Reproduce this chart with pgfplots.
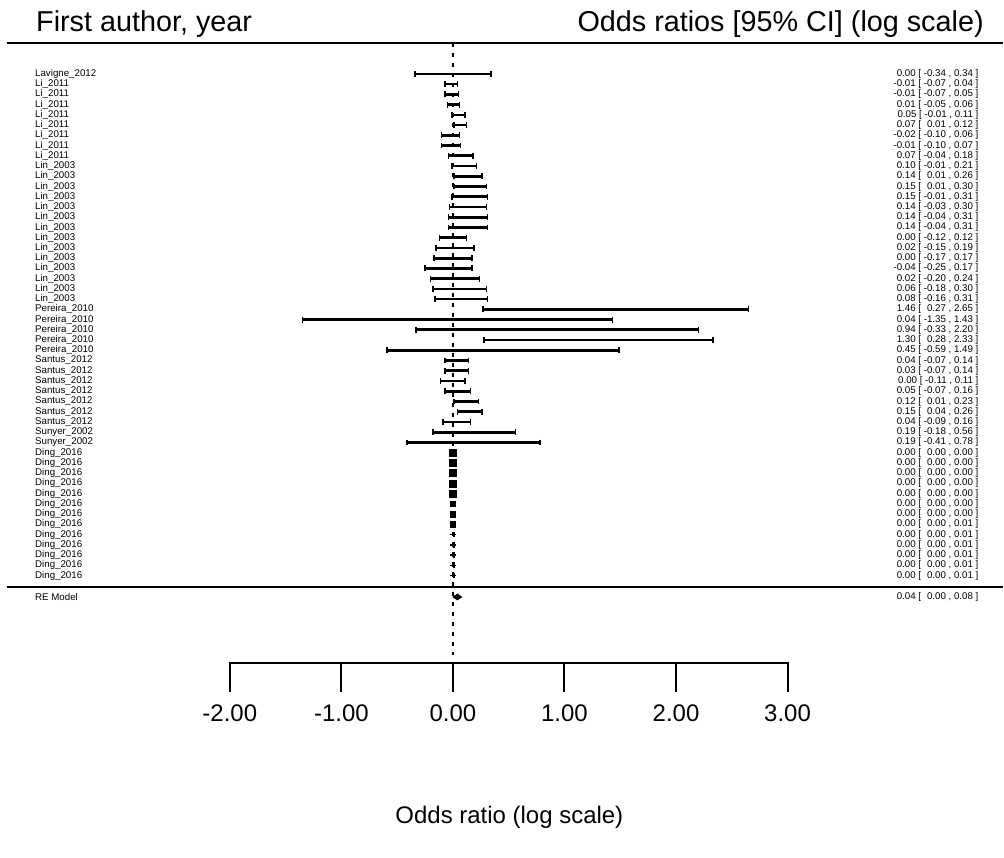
\documentclass[border=0pt]{standalone}
\usepackage{pgfplots}
\pgfplotsset{compat=1.18}
\usepackage{pgfplotstable}
\usepackage{fontspec}
\setmainfont{Liberation Sans}
\protected\def\mph{\phantom{-}}
\protected\def\us{\_}

\pgfplotstableread[col sep=semicolon]{
row;est;lo;hi;sz;study;txt
1;0.00;-0.34;0.34;0.4;Lavigne\us 2012;0.00 [ -0.34 , 0.34 ]
2;-0.01;-0.07;0.04;0.4;Li\us 2011;-0.01 [ -0.07 , 0.04 ]
3;-0.01;-0.07;0.05;0.4;Li\us 2011;-0.01 [ -0.07 , 0.05 ]
4;0.01;-0.05;0.06;0.4;Li\us 2011;0.01 [ -0.05 , 0.06 ]
5;0.05;-0.01;0.11;0.4;Li\us 2011;0.05 [ -0.01 , 0.11 ]
6;0.07;0.01;0.12;0.4;Li\us 2011;0.07 [ \mph0.01 , 0.12 ]
7;-0.02;-0.10;0.06;0.4;Li\us 2011;-0.02 [ -0.10 , 0.06 ]
8;-0.01;-0.10;0.07;0.4;Li\us 2011;-0.01 [ -0.10 , 0.07 ]
9;0.07;-0.04;0.18;0.4;Li\us 2011;0.07 [ -0.04 , 0.18 ]
10;0.10;-0.01;0.21;0.4;Lin\us 2003;0.10 [ -0.01 , 0.21 ]
11;0.14;0.01;0.26;0.4;Lin\us 2003;0.14 [ \mph0.01 , 0.26 ]
12;0.15;0.01;0.30;0.4;Lin\us 2003;0.15 [ \mph0.01 , 0.30 ]
13;0.15;-0.01;0.31;0.4;Lin\us 2003;0.15 [ -0.01 , 0.31 ]
14;0.14;-0.03;0.30;0.4;Lin\us 2003;0.14 [ -0.03 , 0.30 ]
15;0.14;-0.04;0.31;0.4;Lin\us 2003;0.14 [ -0.04 , 0.31 ]
16;0.14;-0.04;0.31;0.4;Lin\us 2003;0.14 [ -0.04 , 0.31 ]
17;0.00;-0.12;0.12;0.4;Lin\us 2003;0.00 [ -0.12 , 0.12 ]
18;0.02;-0.15;0.19;0.4;Lin\us 2003;0.02 [ -0.15 , 0.19 ]
19;0.00;-0.17;0.17;0.4;Lin\us 2003;0.00 [ -0.17 , 0.17 ]
20;-0.04;-0.25;0.17;0.4;Lin\us 2003;-0.04 [ -0.25 , 0.17 ]
21;0.02;-0.20;0.24;0.4;Lin\us 2003;0.02 [ -0.20 , 0.24 ]
22;0.06;-0.18;0.30;0.4;Lin\us 2003;0.06 [ -0.18 , 0.30 ]
23;0.08;-0.16;0.31;0.4;Lin\us 2003;0.08 [ -0.16 , 0.31 ]
24;1.46;0.27;2.65;0.3;Pereira\us 2010;1.46 [ \mph0.27 , 2.65 ]
25;0.04;-1.35;1.43;0.3;Pereira\us 2010;0.04 [ -1.35 , 1.43 ]
26;0.94;-0.33;2.20;0.3;Pereira\us 2010;0.94 [ -0.33 , 2.20 ]
27;1.30;0.28;2.33;0.3;Pereira\us 2010;1.30 [ \mph0.28 , 2.33 ]
28;0.45;-0.59;1.49;0.3;Pereira\us 2010;0.45 [ -0.59 , 1.49 ]
29;0.04;-0.07;0.14;0.4;Santus\us 2012;0.04 [ -0.07 , 0.14 ]
30;0.03;-0.07;0.14;0.4;Santus\us 2012;0.03 [ -0.07 , 0.14 ]
31;0.00;-0.11;0.11;0.4;Santus\us 2012;0.00 [ -0.11 , 0.11 ]
32;0.05;-0.07;0.16;0.4;Santus\us 2012;0.05 [ -0.07 , 0.16 ]
33;0.12;0.01;0.23;0.4;Santus\us 2012;0.12 [ \mph0.01 , 0.23 ]
34;0.15;0.04;0.26;0.4;Santus\us 2012;0.15 [ \mph0.04 , 0.26 ]
35;0.04;-0.09;0.16;0.4;Santus\us 2012;0.04 [ -0.09 , 0.16 ]
36;0.19;-0.18;0.56;0.4;Sunyer\us 2002;0.19 [ -0.18 , 0.56 ]
37;0.19;-0.41;0.78;0.4;Sunyer\us 2002;0.19 [ -0.41 , 0.78 ]
38;0.00;0.00;0.00;2.6;Ding\us 2016;0.00 [ \mph0.00 , 0.00 ]
39;0.00;0.00;0.00;2.6;Ding\us 2016;0.00 [ \mph0.00 , 0.00 ]
40;0.00;0.00;0.00;2.6;Ding\us 2016;0.00 [ \mph0.00 , 0.00 ]
41;0.00;0.00;0.00;2.6;Ding\us 2016;0.00 [ \mph0.00 , 0.00 ]
42;0.00;0.00;0.00;2.6;Ding\us 2016;0.00 [ \mph0.00 , 0.00 ]
43;0.00;0.00;0.00;2.1;Ding\us 2016;0.00 [ \mph0.00 , 0.00 ]
44;0.00;0.00;0.00;2.1;Ding\us 2016;0.00 [ \mph0.00 , 0.00 ]
45;0.00;0.00;0.01;2.1;Ding\us 2016;0.00 [ \mph0.00 , 0.01 ]
46;0.00;0.00;0.01;0.8;Ding\us 2016;0.00 [ \mph0.00 , 0.01 ]
47;0.00;0.00;0.01;0.8;Ding\us 2016;0.00 [ \mph0.00 , 0.01 ]
48;0.00;0.00;0.01;0.8;Ding\us 2016;0.00 [ \mph0.00 , 0.01 ]
49;0.00;0.00;0.01;0.8;Ding\us 2016;0.00 [ \mph0.00 , 0.01 ]
50;0.00;0.00;0.01;0.8;Ding\us 2016;0.00 [ \mph0.00 , 0.01 ]
}\data

\pgfplotstableread[col sep=semicolon]{
x;lab
-2;-2.00
-1;-1.00
0;0.00
1;1.00
2;2.00
3;3.00
}\ticks

\begin{document}
\begin{tikzpicture}
\begin{axis}[
  width=753pt, height=644.25pt, scale only axis,
  xmin=-4.06, xmax=4.929,
  ymin=-6.22, ymax=77.59, y dir=reverse,
  axis line style={draw=none}, ticks=none,
  clip=false,
]
\path (rel axis cs:0,0) rectangle (rel axis cs:1,1);
% header
\node[anchor=base west, font=\fontsize{21.6}{24}\selectfont, inner sep=0pt] at (axis cs:-3.738,-3.1) {First author, year};
\node[anchor=base east, font=\fontsize{21.6}{24}\selectfont, inner sep=0pt] at (axis cs:4.76,-3.1) {Odds ratios [95\% CI] (log scale)};
% lines
\addplot[black, line width=1.9pt] coordinates {(-3.997,-2.02) (4.929,-2.02)};
\addplot[black, line width=1.9pt] coordinates {(-3.997,51.1) (4.929,51.1)};
\addplot[black, line width=1.8pt, dash pattern=on 3pt off 4.5pt] coordinates {(0,-2.02) (0,57.8)};
% CIs
\addplot[black, draw=none, mark=none,
  error bars/.cd, x dir=both, x explicit, error mark=|,
  error bar style={draw=black, solid, line width=2pt},
  error mark options={draw=black, solid, mark size=2.2pt, line width=1.1pt}]
  table[x=est, y=row, x error plus expr=\thisrow{hi}-\thisrow{est}, x error minus expr=\thisrow{est}-\thisrow{lo}] {\data};
% squares
\addplot[scatter, only marks, mark=square*, point meta=\thisrow{sz},
  scatter/use mapped color={draw=black, fill=black},
  visualization depends on={\thisrow{sz} \as \msz},
  scatter/@pre marker code/.append style={/tikz/mark size=\msz pt}]
  table[x=est, y=row] {\data};
% RE diamond
\addplot[black, fill=black, line width=0.4pt] coordinates {(0,52.1) (0.04,51.8) (0.08,52.1) (0.04,52.4) (0,52.1)} -- cycle;
% labels
\addplot[draw=none, mark=none, nodes near coords, point meta=explicit symbolic,
  every node near coord/.append style={anchor=west, inner sep=0pt, font=\fontsize{7.3}{8}\selectfont}]
  table[x expr=-3.747, y=row, meta=study] {\data};
\addplot[draw=none, mark=none, nodes near coords, point meta=explicit symbolic,
  every node near coord/.append style={anchor=east, inner sep=0pt, font=\fontsize{7.3}{8}\selectfont}]
  table[x expr=4.713, y=row, meta=txt] {\data};
\node[anchor=west, inner sep=0pt, font=\fontsize{7.3}{8}\selectfont] at (axis cs:-3.747,52.1) {RE Model};
\node[anchor=east, inner sep=0pt, font=\fontsize{7.3}{8}\selectfont] at (axis cs:4.713,52.1) {0.04 [ \mph0.00 , 0.08 ]};
% x axis
\addplot[black, line width=1.5pt] coordinates {(-2,61.39) (-2,58.56) (3,58.56) (3,61.39)};
\addplot[black, line width=1.5pt] coordinates {(-1,58.56) (-1,61.39)};
\addplot[black, line width=1.5pt] coordinates {(0,58.56) (0,61.39)};
\addplot[black, line width=1.5pt] coordinates {(1,58.56) (1,61.39)};
\addplot[black, line width=1.5pt] coordinates {(2,58.56) (2,61.39)};
\addplot[draw=none, mark=none, nodes near coords, point meta=explicit symbolic,
  every node near coord/.append style={anchor=center, inner sep=0pt, font=\fontsize{18}{20}\selectfont}]
  table[x=x, y expr=63.5, meta=lab] {\ticks};
\node[anchor=center, font=\fontsize{18}{20}\selectfont, inner sep=0pt] at (axis cs:0.506,73.6) {Odds ratio (log scale)};
\end{axis}
\end{tikzpicture}
\end{document}
